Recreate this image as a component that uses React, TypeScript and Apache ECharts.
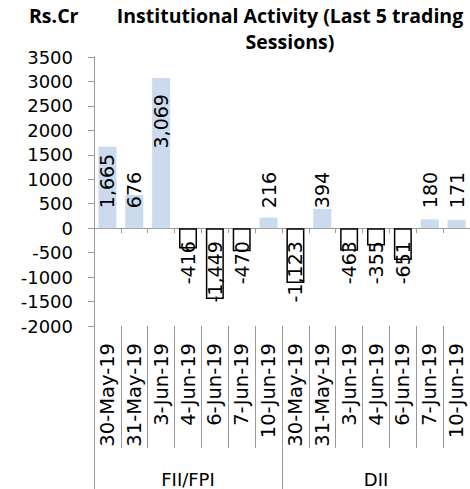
import React, { useEffect, useRef } from "react";
import * as echarts from "echarts";

const dates = ["30-May-19", "31-May-19", "3-Jun-19", "4-Jun-19", "6-Jun-19", "7-Jun-19", "10-Jun-19"];
const groups = ["FII/FPI", "DII"];
const fiiValues = [1665, 676, 3069, -416, -1449, -470, 216];
const diiValues = [-1123, 394, -463, -355, -651, 180, 171];
const yTicks = { min: -2000, max: 3500, interval: 500 };

const FONT = "DejaVu Sans";
const TITLE_FONT = "Open Sans";

export default function App() {
  const ref = useRef<HTMLDivElement>(null);
  useEffect(() => {
    if (!ref.current) return;
    const chart = echarts.init(ref.current, null, { renderer: "svg" });
    const categories = [...dates, ...dates];
    const values = [...fiiValues, ...diiValues];
    const fmt = (v: number) => v.toLocaleString("en-US");
    const data = values.map((v) => {
      const pos = v >= 0;
      const atEnd = v > 2500;
      return {
        value: v,
        itemStyle: pos
          ? { color: "#cbdaed", borderWidth: 0 }
          : { color: "#ffffff", borderColor: "#000000", borderWidth: 1.5 },
        label: {
          show: true,
          rotate: 90,
          position: atEnd ? "insideTop" : pos ? "insideBottom" : "insideTop",
          align: atEnd ? "right" : pos ? "left" : "right",
          verticalAlign: "middle",
          distance: atEnd ? 19 : pos ? 17 : 16,
          offset: [3, 0],
          formatter: () => fmt(v),
          color: "#000",
          fontFamily: FONT,
          fontSize: 19,
        },
      };
    });
    const gray = "#9a9a9a";
    chart.setOption({
      animation: false,
      grid: { left: 94, right: -3, top: 57, bottom: 163, containLabel: false },
      graphic: [
        {
          type: "text",
          x: 290,
          y: 2,
          style: {
            text: "Institutional Activity (Last 5 trading\nSessions)",
            textAlign: "center",
            fontFamily: TITLE_FONT,
            fontWeight: "bold",
            fontSize: 19.5,
            lineHeight: 26,
            fill: "#000",
          },
        },
        {
          type: "text",
          x: 29,
          y: 2,
          style: {
            text: "Rs.Cr",
            fontFamily: TITLE_FONT,
            fontWeight: "bold",
            fontSize: 19.5,
            lineHeight: 26,
            fill: "#000",
          },
        },
      ],
      xAxis: [
        {
          type: "category",
          data: categories,
          position: "bottom",
          axisLine: { show: true, onZero: true, lineStyle: { color: gray, width: 1 } },
          axisTick: { show: true, interval: 0, length: 5, lineStyle: { color: gray } },
          axisLabel: { show: false },
          splitLine: { show: false },
        },
        {
          type: "category",
          data: categories,
          position: "bottom",
          axisLine: { show: false, onZero: false },
          axisTick: { show: true, interval: 0, length: 122, lineStyle: { color: gray } },
          axisLabel: {
            show: true,
            interval: 0,
            rotate: 90,
            margin: 17,
            fontFamily: FONT,
            fontSize: 19.5,
            color: "#000",
          },
          splitLine: { show: false },
        },
        {
          type: "category",
          data: groups,
          position: "bottom",
          axisLine: { show: false, onZero: false },
          axisTick: { show: true, interval: 0, length: 165, lineStyle: { color: gray } },
          axisLabel: {
            show: true,
            interval: 0,
            margin: 144,
            fontFamily: FONT,
            fontSize: 18,
            color: "#000",
          },
          splitLine: { show: false },
        },
      ],
      yAxis: {
        type: "value",
        min: yTicks.min,
        max: yTicks.max,
        interval: yTicks.interval,
        axisLine: { show: true, lineStyle: { color: gray } },
        axisTick: { show: true, length: 6, lineStyle: { color: gray } },
        axisLabel: {
          fontFamily: FONT,
          fontSize: 18,
          color: "#000",
          margin: 21,
          formatter: (v: number) => String(v),
        },
        splitLine: { show: false },
      },
      series: [
        {
          type: "bar",
          xAxisIndex: 0,
          barWidth: 18,
          data,
        },
      ],
    });
    return () => chart.dispose();
  }, []);
  return (
    <div
      ref={ref}
      style={{ position: "fixed", left: 0, top: 0, width: 470, height: 489, background: "#fff" }}
    />
  );
}
